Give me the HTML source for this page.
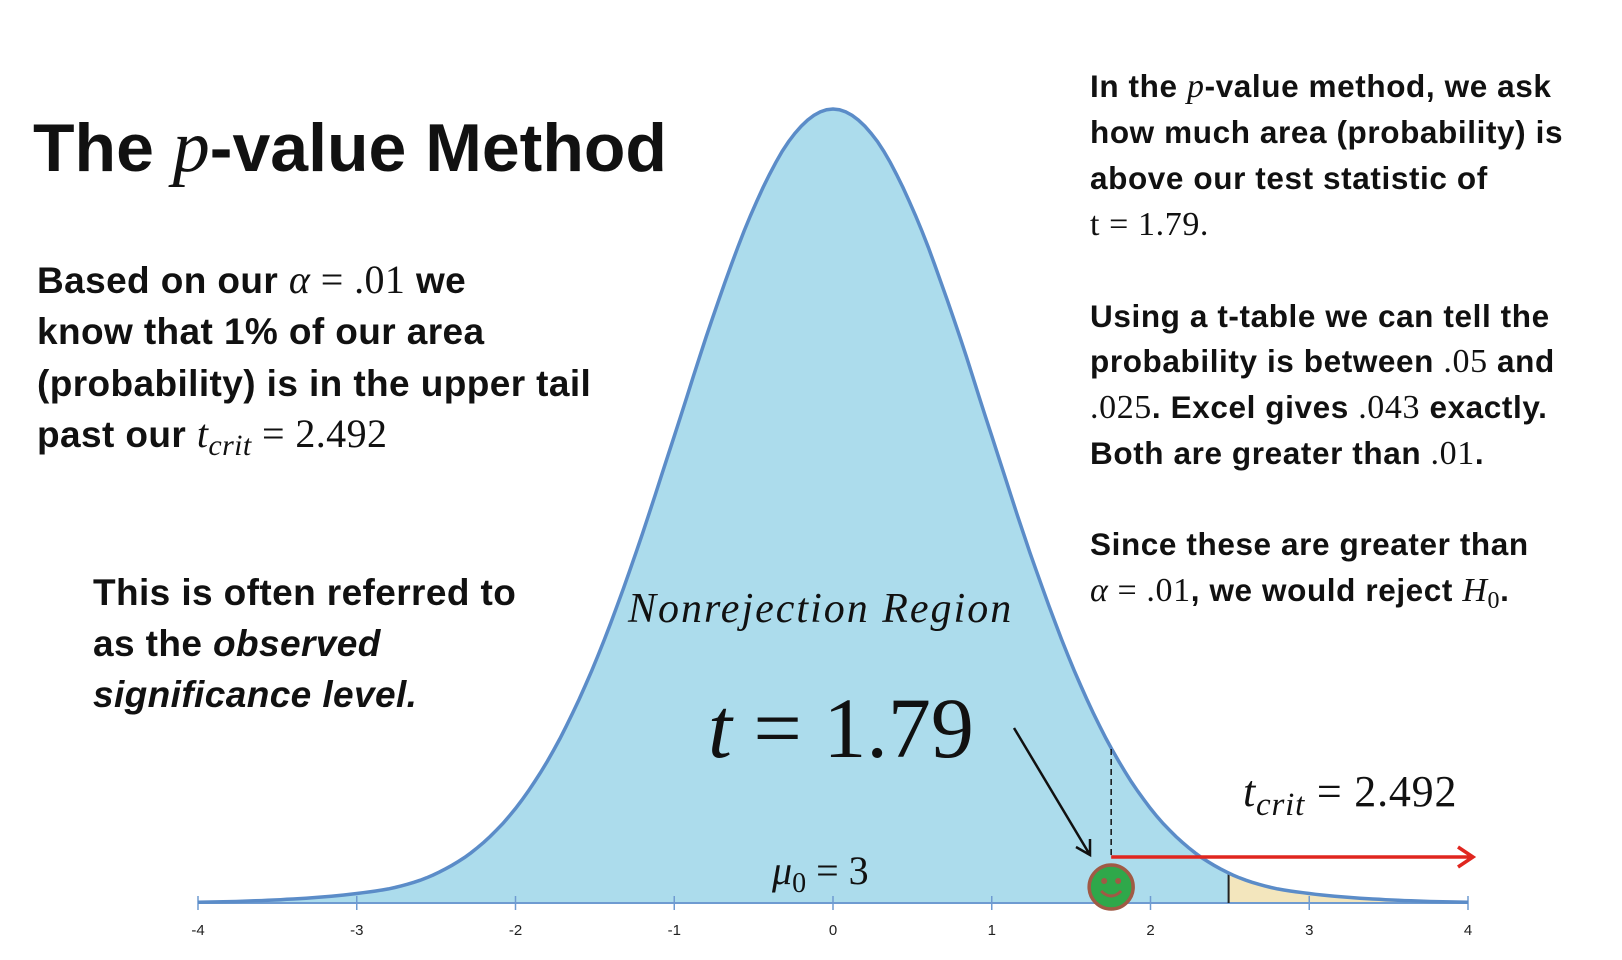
<!DOCTYPE html>
<html><head><meta charset="utf-8"><style>
body{margin:0;background:#fff;}
svg{display:block;}
.b{font-family:"Liberation Sans",sans-serif;font-weight:bold;fill:#111;}
.m{font-family:"Liberation Serif",serif;font-weight:normal;}
.mi{font-family:"Liberation Serif",serif;font-style:italic;font-weight:normal;}
</style></head><body>
<svg id="chart" width="1622" height="960" viewBox="0 0 1622 960">
<g id="curve-layer"></g>
<text class="b" x="33" y="171" font-size="68">The <tspan class="mi" font-size="74">p</tspan>-value Method</text>
<g font-size="37" letter-spacing="0.4">
<text class="b" x="37" y="293">Based on our <tspan class="mi" font-size="40">α</tspan><tspan class="m" font-size="40"> = .01</tspan> we</text>
<text class="b" x="37" y="344">know that 1% of our area</text>
<text class="b" x="37" y="396">(probability) is in the upper tail</text>
<text class="b" x="37" y="447">past our <tspan class="mi" font-size="40">t</tspan><tspan class="mi" font-size="30" dy="8">crit</tspan><tspan class="m" font-size="40" dy="-8"> = 2.492</tspan></text>
</g>
<g font-size="37" letter-spacing="0.4">
<text class="b" x="93" y="605">This is often referred to</text>
<text class="b" x="93" y="656">as the <tspan font-style="italic">observed</tspan></text>
<text class="b" x="93" y="707" font-style="italic">significance level.</text>
</g>
<g font-size="31.5" letter-spacing="0.6">
<text class="b" x="1090" y="97">In the <tspan class="mi" font-size="34">p</tspan>-value method, we ask</text>
<text class="b" x="1090" y="143">how much area (probability) is</text>
<text class="b" x="1090" y="189">above our test statistic of</text>
<text class="b" x="1090" y="235"><tspan class="m" font-size="34">t = 1.79.</tspan></text>
<text class="b" x="1090" y="327">Using a t-table we can tell the</text>
<text class="b" x="1090" y="372">probability is between <tspan class="m" font-size="34">.05</tspan> and</text>
<text class="b" x="1090" y="418"><tspan class="m" font-size="34">.025</tspan>. Excel gives <tspan class="m" font-size="34">.043</tspan> exactly.</text>
<text class="b" x="1090" y="464">Both are greater than <tspan class="m" font-size="34">.01</tspan>.</text>
<text class="b" x="1090" y="555">Since these are greater than</text>
<text class="b" x="1090" y="601"><tspan class="mi" font-size="34">α</tspan><tspan class="m" font-size="34"> = .01</tspan>, we would reject <tspan class="mi" font-size="34">H</tspan><tspan class="m" font-size="24" dy="7">0</tspan><tspan dy="-7">.</tspan></text>
</g>
<text class="mi" x="628" y="622" font-size="42" letter-spacing="2" fill="#111">Nonrejection Region</text>
<text class="m" x="708" y="757" font-size="86" fill="#111"><tspan class="mi">t</tspan> = 1.79</text>
<text class="m" x="772" y="884" font-size="40" fill="#111"><tspan class="mi">μ</tspan><tspan font-size="28" dy="8">0</tspan><tspan dy="-8"> = 3</tspan></text>
<text class="m" x="1243" y="806" font-size="44" letter-spacing="0.8" fill="#111"><tspan class="mi">t</tspan><tspan class="mi" font-size="33" dy="9">crit</tspan><tspan dy="-9"> = 2.492</tspan></text>
</svg>
<script>
const xTicks = [-4,-3,-2,-1,0,1,2,3,4];
const densX = [-4,-3.75,-3.5,-3.25,-3,-2.75,-2.5,-2.25,-2,-1.75,-1.5,-1.25,-1,-0.75,-0.5,-0.25,0,0.25,0.5,0.75,1,1.25,1.5,1.75,2,2.25,2.5,2.75,3,3.25,3.5,3.75,4];
const densY = [0.001,0.002,0.004,0.007,0.012,0.02,0.037,0.068,0.119,0.196,0.302,0.436,0.588,0.742,0.875,0.967,1,0.967,0.875,0.742,0.588,0.436,0.302,0.196,0.119,0.068,0.037,0.02,0.012,0.007,0.004,0.002,0.001];
const tStat = [1.79];
const tCrit = [2.492];
const NS='http://www.w3.org/2000/svg';
const g=document.getElementById('curve-layer');
const X0=198,X1=1468,Y0=903,PEAK=109;
function sx(v){return X0+(v-xTicks[0])/(xTicks[xTicks.length-1]-xTicks[0])*(X1-X0);}
function sy(d){return Y0-d*(Y0-PEAK);}
function dens(v){for(let i=0;i<densX.length-1;i++){if(v>=densX[i]&&v<=densX[i+1]){const t=(v-densX[i])/(densX[i+1]-densX[i]);
const p0=densY[Math.max(i-1,0)],p1=densY[i],p2=densY[i+1],p3=densY[Math.min(i+2,densY.length-1)];
const t2=t*t,t3=t2*t;return 0.5*((2*p1)+(-p0+p2)*t+(2*p0-5*p1+4*p2-p3)*t2+(-p0+3*p1-3*p2+p3)*t3);}}return 0;}
function pts(a,b){let s=[];const n=200;for(let i=0;i<=n;i++){const v=a+(b-a)*i/n;s.push(sx(v).toFixed(1)+','+sy(dens(v)).toFixed(1));}return s;}
function mk(tag,attrs){const e=document.createElementNS(NS,tag);for(const k in attrs)e.setAttribute(k,attrs[k]);g.appendChild(e);return e;}
const lo=densX[0],hi=densX[densX.length-1];
let p=mk('path',{d:'M'+sx(lo)+','+Y0+' L'+pts(lo,tCrit[0]).join(' L')+' L'+sx(tCrit[0])+','+Y0+' Z',fill:'#acdcec'});


p=mk('path',{d:'M'+sx(tCrit[0])+','+Y0+' L'+pts(tCrit[0],hi).join(' L')+' L'+sx(hi)+','+Y0+' Z',fill:'#f3e6bd'});


p=mk('line',{x1:sx(lo),x2:sx(hi),y1:Y0,y2:Y0,stroke:'#6f9bd1','stroke-width':2});


xTicks.forEach(t=>{
 let l=mk('line',{x1:sx(t),x2:sx(t),y1:Y0-7,y2:Y0+7,stroke:'#6f9bd1','stroke-width':1.5});
 
 
 let tx=mk('text',{x:sx(t),y:Y0+32,'text-anchor':'middle','font-family':'Liberation Sans, sans-serif','font-size':15,fill:'#222'});
 tx.textContent=t;
 
 
});
p=mk('line',{x1:sx(tCrit[0]),x2:sx(tCrit[0]),y1:sy(dens(tCrit[0])),y2:Y0,stroke:'#222','stroke-width':2});


p=mk('path',{d:'M'+pts(lo,hi).join(' L'),fill:'none',stroke:'#5b8cc8','stroke-width':3.5});


const xs=sx(tStat[0])-6;
p=mk('line',{x1:xs,x2:xs,y1:749,y2:857,stroke:'#111','stroke-width':1.5,'stroke-dasharray':'6,4'});


p=mk('path',{d:'M'+xs+',857 L1473,857 M1458,847 L1473,857 L1458,867',fill:'none',stroke:'#e0261f','stroke-width':3.5});


p=mk('path',{d:'M1014,728 L1090,855 M1076,847 L1090,855 L1090,839',fill:'none',stroke:'#111','stroke-width':2.5});


p=mk('circle',{cx:xs,cy:887,r:22,fill:'#2fa84a',stroke:'#a05a45','stroke-width':3.5});


mk('circle',{cx:xs-7,cy:881,r:3,fill:'#a05a45'});
mk('circle',{cx:xs+7,cy:881,r:3,fill:'#a05a45'});
mk('path',{d:'M'+(xs-10)+',891 Q'+xs+',901 '+(xs+10)+',891',fill:'none',stroke:'#a05a45','stroke-width':3});
</script>
</body></html>
